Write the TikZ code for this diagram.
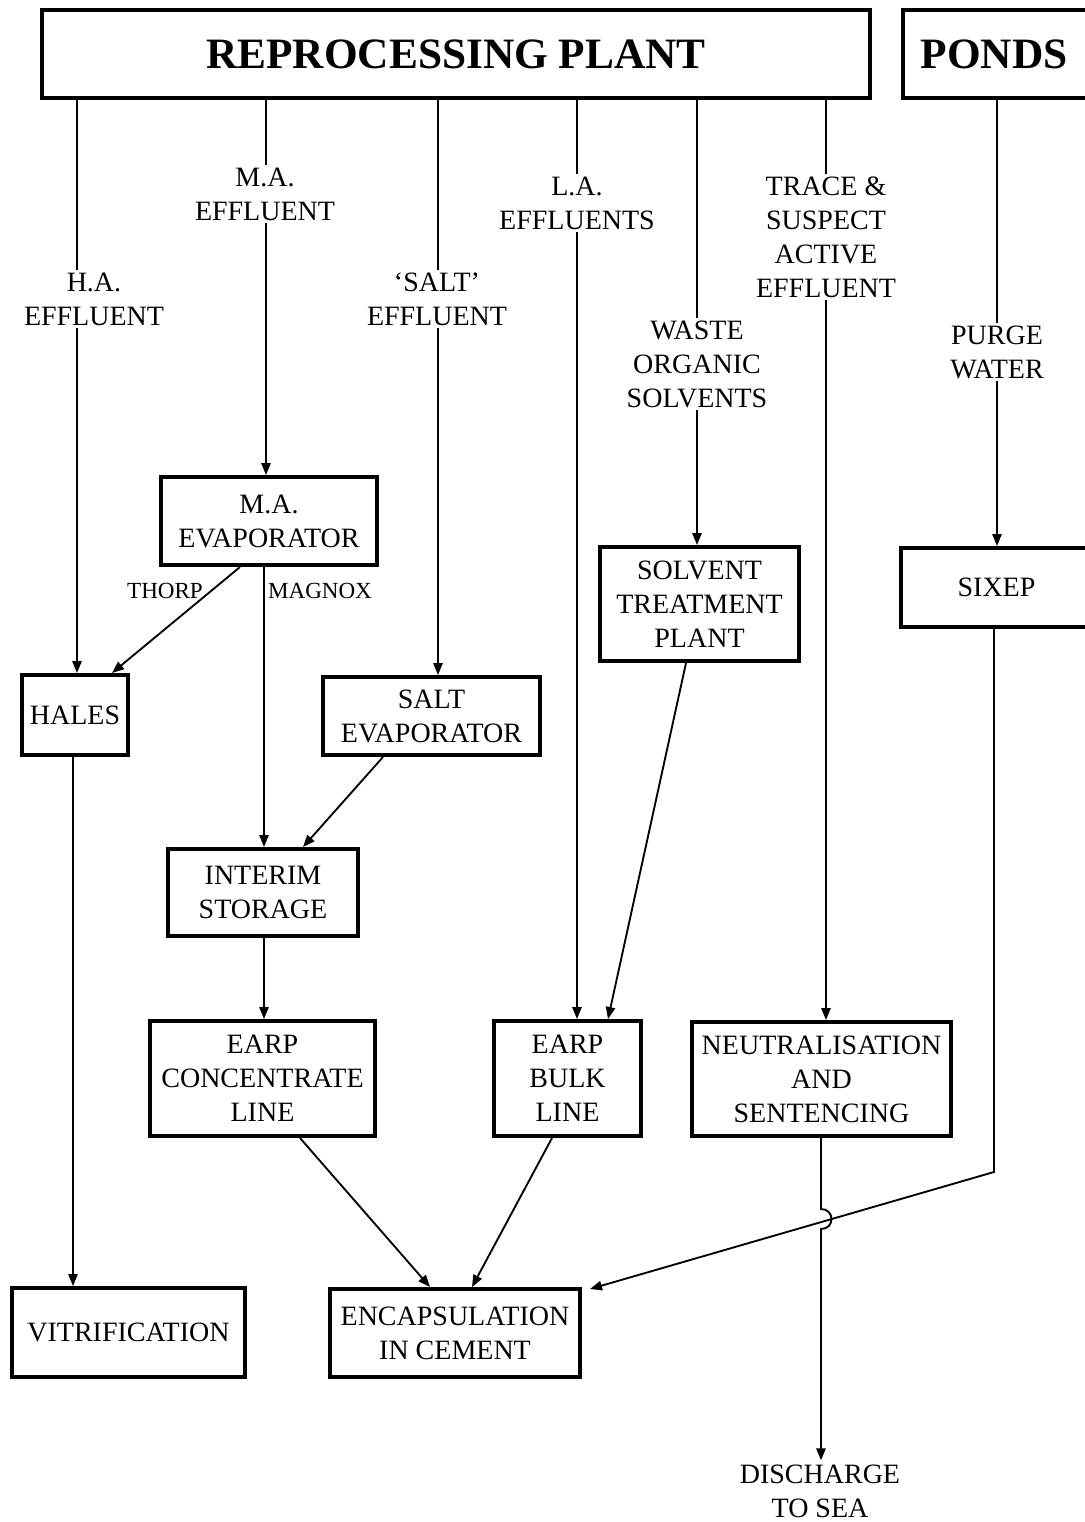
\documentclass[tikz,border=0pt]{standalone}
\usepackage{fontspec}
\setmainfont{Liberation Serif}
\usetikzlibrary{arrows.meta,backgrounds,calc}
\begin{document}
\begin{tikzpicture}[x=0.75pt,y=-0.75pt,
  box/.style={draw, line width=3pt, align=center, inner sep=0pt, font=\fontsize{21}{25.5}\selectfont},
  lbl/.style={fill=white, align=center, inner sep=2pt, font=\fontsize{21}{25.5}\selectfont},
  small/.style={inner sep=0pt, font=\fontsize{17.3}{20}\selectfont},
  arr/.style={line width=1.4pt, -{Triangle[length=9pt,width=7pt]}},
  ln/.style={line width=1.4pt}]
\useasboundingbox (0,0) rectangle (1085,1522);
\clip (0,0) rectangle (1085,1522);

% boxes
\node[box, minimum width=621pt, minimum height=66pt, font=\fontsize{32.5}{39}\selectfont\bfseries] (rp) at (456,54) {REPROCESSING PLANT};
\node[box, minimum width=141.75pt, minimum height=66pt, font=\fontsize{32.5}{39}\selectfont\bfseries] (ponds) at (997.5,54) {PONDS\hspace*{5pt}};
\node[box, minimum width=162pt, minimum height=66pt] (maevap) at (269,521) {M.A.\\EVAPORATOR};
\node[box, minimum width=79.5pt, minimum height=60pt] (hales) at (75,715) {HALES};
\node[box, minimum width=162.75pt, minimum height=58.5pt] (saltevap) at (431.5,716) {SALT\\EVAPORATOR};
\node[box, minimum width=142.5pt, minimum height=65.25pt] (interim) at (263,892.5) {INTERIM\\STORAGE};
\node[box, minimum width=168.75pt, minimum height=86.25pt] (earpconc) at (262.5,1078.5) {EARP\\CONCENTRATE\\LINE};
\node[box, minimum width=110.25pt, minimum height=86.25pt] (earpbulk) at (567.5,1078.5) {EARP\\BULK\\LINE};
\node[box, minimum width=194.25pt, minimum height=85.5pt] (neut) at (821.5,1079) {NEUTRALISATION\\AND\\SENTENCING};
\node[box, minimum width=149.25pt, minimum height=85.5pt] (solvent) at (699.5,604) {SOLVENT\\TREATMENT\\PLANT};
\node[box, minimum width=143.25pt, minimum height=59.25pt] (sixep) at (996.5,587.5) {SIXEP};
\node[box, minimum width=174.75pt, minimum height=66.75pt] (vitri) at (128.5,1332.5) {VITRIFICATION};
\node[box, minimum width=187.5pt, minimum height=66pt] (encap) at (455,1333) {ENCAPSULATION\\IN CEMENT};
\node[lbl, inner sep=3pt] (discharge) at (820,1491) {DISCHARGE\\TO SEA};

% flow labels
\node[lbl] (lha) at (94,299) {H.A.\\EFFLUENT};
\node[lbl] (lma) at (265,194) {M.A.\\EFFLUENT};
\node[lbl] (lsalt) at (437,299) {‘SALT’\\EFFLUENT};
\node[lbl] (lla) at (577,203) {L.A.\\EFFLUENTS};
\node[lbl] (lwos) at (697,364) {WASTE\\ORGANIC\\SOLVENTS};
\node[lbl] (ltr) at (826,237) {TRACE \&\\SUSPECT\\ACTIVE\\EFFLUENT};
\node[lbl] (lpw) at (997,352) {PURGE\\WATER};
\node[small] (thorp) at (165,591) {THORP};
\node[small] (magnox) at (320,591) {MAGNOX};

% x positions
\coordinate (c1) at (77,0);
\coordinate (c2) at (266,0);
\coordinate (c3) at (438,0);
\coordinate (c4) at (577,0);
\coordinate (c5) at (697,0);
\coordinate (c6) at (826,0);
\coordinate (c7) at (997,0);
\coordinate (cm) at (264,0);
\coordinate (ch) at (73,0);
\coordinate (cn) at (821,0);
\coordinate (t1) at (240,0);
\coordinate (t2) at (112,0);
\coordinate (s1) at (383,0);
\coordinate (s2) at (303,0);
\coordinate (e1) at (300,0);
\coordinate (e2) at (430,0);
\coordinate (b1) at (552,0);
\coordinate (b2) at (472,0);
\coordinate (v1) at (686,0);
\coordinate (v2) at (608,0);
\coordinate (x1) at (994,0);
\coordinate (bend) at (994,1172);
\coordinate (hopa) at (821,1209);
\coordinate (hopb) at (821,1229);
\coordinate (encapin) at ($(encap.north east)+(8,2)$);

\begin{scope}[on background layer]
\draw[arr] (rp.south -| c1) -- (hales.north -| c1);
\draw[arr] (rp.south -| c2) -- (maevap.north -| c2);
\draw[arr] (rp.south -| c3) -- (saltevap.north -| c3);
\draw[arr] (rp.south -| c4) -- (earpbulk.north -| c4);
\draw[arr] (rp.south -| c5) -- (solvent.north -| c5);
\draw[arr] (rp.south -| c6) -- (neut.north -| c6);
\draw[arr] (ponds.south -| c7) -- (sixep.north -| c7);
\end{scope}

\draw[arr] (maevap.south -| t1) -- (hales.north -| t2);
\draw[arr] (maevap.south -| cm) -- (interim.north -| cm);
\draw[arr] (saltevap.south -| s1) -- (interim.north -| s2);
\draw[arr] (interim.south -| cm) -- (earpconc.north -| cm);
\draw[arr] (earpconc.south -| e1) -- (encap.north -| e2);
\draw[arr] (earpbulk.south -| b1) -- (encap.north -| b2);
\draw[arr] (solvent.south -| v1) -- (earpbulk.north -| v2);
\draw[arr] (hales.south -| ch) -- (vitri.north -| ch);
\draw[arr] (neut.south -| cn) -- (hopa) .. controls (835,1209) and (835,1229) .. (hopb) -- (discharge.north -| cn);
\draw[arr] (sixep.south -| x1) -- (bend) -- (encapin);
\end{tikzpicture}
\end{document}
